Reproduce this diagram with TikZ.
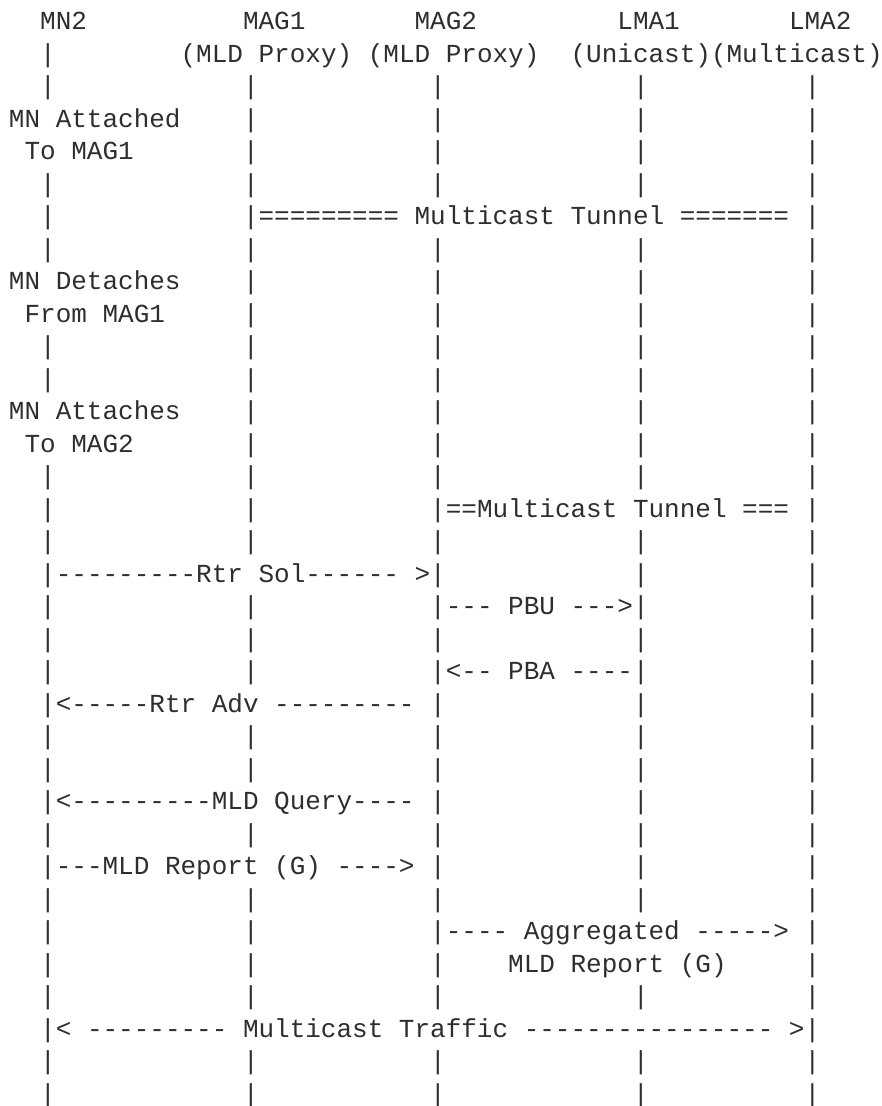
\documentclass[tikz,border=0pt]{standalone}
\usepackage{fontspec}
\setmonofont{Liberation Mono}
\definecolor{ink}{HTML}{2E2E2E}
\tikzset{
  txt/.style={anchor=base west, inner sep=0pt, outer sep=0pt, text=ink,
    font=\ttfamily\fontsize{26pt}{32.5pt}\selectfont}
}
\newcommand\seg[3]{\node[txt] (s#1-#2) at (#2,#1) {#3};}
\newcommand\pipes[2]{\foreach \c in {#2} {\node[txt] (p#1-\c) at (\c,#1) {|};}}
\newcommand\allpipes[1]{\pipes{#1}{2,15,27,40,51}}
\begin{document}
\begin{tikzpicture}[x=15.6pt,y=-32.5pt]
\fill[white] (-9pt,29.5pt) rectangle (873pt,-1076.5pt);
\useasboundingbox (-9pt,29.5pt) rectangle (873pt,-1076.5pt);
% header
\seg{0}{2}{MN2}\seg{0}{15}{MAG1}\seg{0}{26}{MAG2}\seg{0}{39}{LMA1}\seg{0}{50}{LMA2}
\pipes{1}{2}\seg{1}{11}{(MLD Proxy)}\seg{1}{23}{(MLD Proxy)}\seg{1}{36}{(Unicast)(Multicast)}
\allpipes{2}
\seg{3}{0}{MN Attached}\pipes{3}{15,27,40,51}
\seg{4}{1}{To MAG1}\pipes{4}{15,27,40,51}
\allpipes{5}
\pipes{6}{2}\seg{6}{15}{|========= Multicast Tunnel ======= |}
\allpipes{7}
\seg{8}{0}{MN Detaches}\pipes{8}{15,27,40,51}
\seg{9}{1}{From MAG1}\pipes{9}{15,27,40,51}
\allpipes{10}
\allpipes{11}
\seg{12}{0}{MN Attaches}\pipes{12}{15,27,40,51}
\seg{13}{1}{To MAG2}\pipes{13}{15,27,40,51}
\allpipes{14}
\pipes{15}{2,15}\seg{15}{27}{|==Multicast Tunnel === |}
\allpipes{16}
\seg{17}{2}{|---------Rtr Sol------ >|}\pipes{17}{40,51}
\pipes{18}{2,15}\seg{18}{27}{|--- PBU --->|}\pipes{18}{51}
\allpipes{19}
\pipes{20}{2,15}\seg{20}{27}{|<-- PBA ----|}\pipes{20}{51}
\seg{21}{2}{|<-----Rtr Adv --------- |}\pipes{21}{40,51}
\allpipes{22}
\allpipes{23}
\seg{24}{2}{|<---------MLD Query---- |}\pipes{24}{40,51}
\allpipes{25}
\seg{26}{2}{|---MLD Report (G) ----> |}\pipes{26}{40,51}
\allpipes{27}
\pipes{28}{2,15}\seg{28}{27}{|---- Aggregated -----> |}
\pipes{29}{2,15,27}\seg{29}{32}{MLD Report (G)}\pipes{29}{51}
\allpipes{30}
\seg{31}{2}{|< --------- Multicast Traffic ---------------- >|}
\allpipes{32}
\allpipes{33}
\end{tikzpicture}
\end{document}
